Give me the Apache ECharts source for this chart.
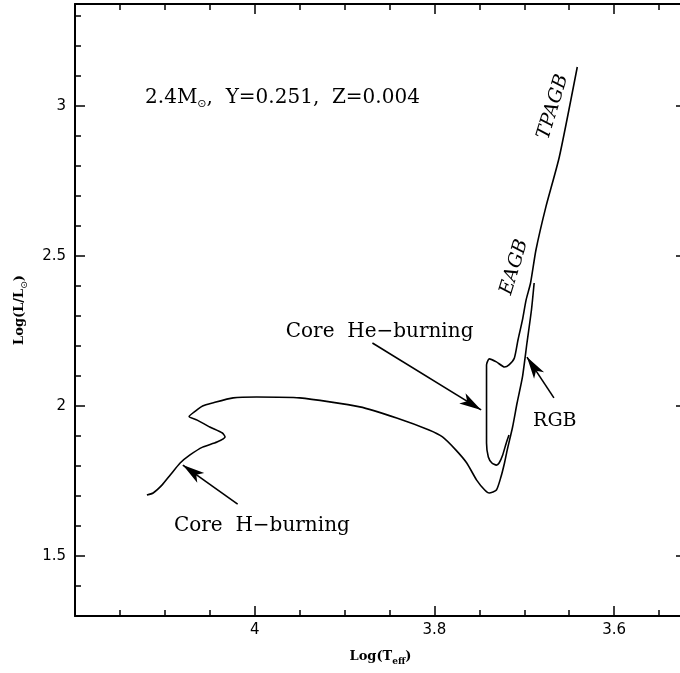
<!DOCTYPE html>
<html>
<head>
<meta charset="utf-8">
<script src="https://cdn.jsdelivr.net/npm/echarts@6/dist/echarts.min.js"></script>
<style>
html, body { margin: 0; padding: 0; background: #fff; overflow: hidden; }
#main { width: 690px; height: 673px; }
</style>
</head>
<body>
<div id="main"></div>
<script>
// track: main sequence -> hook -> Hertzsprung gap -> RGB tip  [logTeff, logL]
var msToRgb = [
  [4.120, 1.703], [4.113, 1.710], [4.103, 1.737], [4.094, 1.770], [4.083, 1.810],
  [4.072, 1.837], [4.058, 1.863], [4.042, 1.880], [4.033, 1.897], [4.036, 1.910],
  [4.050, 1.930], [4.064, 1.953], [4.073, 1.965], [4.066, 1.983], [4.058, 2.000],
  [4.047, 2.010], [4.024, 2.027], [3.998, 2.030], [3.950, 2.027], [3.883, 1.997],
  [3.842, 1.960], [3.806, 1.920], [3.791, 1.897], [3.776, 1.853], [3.764, 1.810],
  [3.753, 1.753], [3.744, 1.720], [3.739, 1.710], [3.731, 1.720], [3.726, 1.763],
  [3.722, 1.810], [3.719, 1.853], [3.713, 1.930], [3.708, 2.010], [3.702, 2.097],
  [3.697, 2.210], [3.692, 2.320], [3.689, 2.410]
];
// core He burning loop -> early AGB -> thermally pulsing AGB
var heToAgb = [
  [3.717, 1.903], [3.720, 1.877], [3.724, 1.837], [3.728, 1.810], [3.731, 1.803],
  [3.736, 1.810], [3.740, 1.830], [3.742, 1.877], [3.742, 1.963], [3.742, 2.077],
  [3.742, 2.137], [3.739, 2.157], [3.731, 2.147], [3.722, 2.130], [3.717, 2.137],
  [3.711, 2.160], [3.707, 2.220], [3.702, 2.287], [3.698, 2.353], [3.693, 2.410],
  [3.687, 2.520], [3.676, 2.663], [3.661, 2.830], [3.641, 3.130]
];

var xMajor = [3.6, 3.8, 4.0];
var xMinor = [3.55, 3.65, 3.7, 3.75, 3.85, 3.9, 3.95, 4.05, 4.1, 4.15];
var yMajor = [1.5, 2, 2.5, 3];
var yMinor = [1.4, 1.6, 1.7, 1.8, 1.9, 2.1, 2.2, 2.3, 2.4, 2.6, 2.7, 2.8, 2.9, 3.1, 3.2, 3.3];

// arrows: [from, to]
var arrowH = [[4.019, 1.673], [4.080, 1.803]];
var arrowHe = [[3.869, 2.210], [3.748, 1.987]];
var arrowRgb = [[3.667, 2.027], [3.697, 2.163]];

var labelModel = [4.122, 3.025];
var labelH = [3.992, 1.600];
var labelHe = [3.861, 2.247];
var labelRgb = [3.666, 1.950];
var labelEagb = [3.711, 2.463];
var labelTpagb = [3.668, 2.997];

var chart = echarts.init(document.getElementById('main'));

var ink = '#000';
var tickFont = { fontFamily: 'DejaVu Sans', fontSize: 15, color: ink };
var serif = 'DejaVu Serif';

function xAx(pos, ticks, len, major) {
  return {
    type: 'value', position: pos, inverse: true, min: 3.52, max: 4.2,
    axisLine: { show: major, onZero: false, lineStyle: { color: ink, width: 2 } },
    axisTick: { show: true, inside: true, length: len, customValues: ticks, lineStyle: { color: ink, width: 1.5 } },
    axisLabel: major && pos == 'bottom'
      ? Object.assign({ show: true, customValues: xMajor, margin: 7 }, tickFont)
      : { show: false },
    splitLine: { show: false }
  };
}
function yAx(pos, ticks, len, major) {
  return {
    type: 'value', position: pos, min: 1.3, max: 3.34,
    axisLine: { show: major, onZero: false, lineStyle: { color: ink, width: 2 } },
    axisTick: { show: true, inside: true, length: len, customValues: ticks, lineStyle: { color: ink, width: 1.5 } },
    axisLabel: major && pos == 'left'
      ? Object.assign({ show: true, customValues: yMajor, margin: 9 }, tickFont)
      : { show: false },
    splitLine: { show: false }
  };
}

var xAxes = [xAx('bottom', xMajor, 10, true), xAx('bottom', xMinor, 6, false),
             xAx('top', xMajor, 10, true), xAx('top', xMinor, 6, false)];
xAxes[0].name = '{a|Log(T}{s|eff}{a|)}';
xAxes[0].nameLocation = 'middle';
xAxes[0].nameGap = 34;
xAxes[0].nameTextStyle = {
  rich: {
    a: { fontFamily: serif, fontWeight: 'bold', fontSize: 13, color: ink, lineHeight: 16, verticalAlign: 'top' },
    s: { fontFamily: serif, fontWeight: 'bold', fontSize: 9, color: ink, lineHeight: 10, padding: [10, 0, 0, 0], verticalAlign: 'bottom' }
  }
};

var yAxes = [yAx('left', yMajor, 10, true), yAx('left', yMinor, 6, false),
             yAx('right', yMajor, 10, true), yAx('right', yMinor, 6, false)];
yAxes[0].name = '{a|Log(L/L}{s|⊙}{a|)}';
yAxes[0].nameLocation = 'middle';
yAxes[0].nameGap = 46;
yAxes[0].nameTextStyle = {
  rich: {
    a: { fontFamily: serif, fontWeight: 'bold', fontSize: 13, color: ink, lineHeight: 16, verticalAlign: 'top' },
    s: { fontFamily: 'DejaVu Sans', fontSize: 9, color: ink, lineHeight: 10, padding: [9, 0, 0, 0], verticalAlign: 'bottom' }
  }
};

function txt(at, text, opts) {
  var size = (opts && opts.fontSize) || 20;
  return {
    value: at,
    label: Object.assign({
      show: true, formatter: text, position: [0, 0], align: 'center', verticalAlign: 'middle',
      fontFamily: serif, fontSize: size, color: ink,
      rich: {
        a: { fontFamily: serif, fontSize: size, color: ink, lineHeight: 22, verticalAlign: 'top' },
        s: { fontFamily: 'DejaVu Sans', fontSize: 11, color: ink, lineHeight: 12, padding: [12, 0, 0, 0], verticalAlign: 'bottom' }
      }
    }, opts || {})
  };
}

var option = {
  animation: false,
  backgroundColor: '#fff',
  grid: { left: 75, top: 4, width: 611, height: 612, containLabel: false },
  xAxis: xAxes,
  yAxis: yAxes,
  series: [
    {
      type: 'line', data: msToRgb, showSymbol: false, symbol: 'none', smooth: 0.2,
      lineStyle: { color: ink, width: 1.6 }
    },
    {
      type: 'line', data: heToAgb, showSymbol: false, symbol: 'none', smooth: 0.2,
      lineStyle: { color: ink, width: 1.6 }
    },
    {
      type: 'lines', coordinateSystem: 'cartesian2d',
      symbol: ['none', 'arrow'], symbolSize: [1, [9, 22]],
      lineStyle: { color: ink, width: 1.6, opacity: 1 },
      data: [{ coords: arrowH }, { coords: arrowHe }, { coords: arrowRgb }]
    },
    {
      type: 'scatter', symbolSize: 0, itemStyle: { color: 'rgba(0,0,0,0)', opacity: 1 },
      data: [
        txt(labelModel, '{a|2.4M}{s|⊙}{a|,  Y=0.251,  Z=0.004}', { align: 'left', fontSize: 20 }),
        txt(labelH, 'Core  H\u2212burning'),
        txt(labelHe, 'Core  He\u2212burning'),
        txt(labelRgb, 'RGB', { fontSize: 19 }),
        txt(labelEagb, 'EAGB', { rotate: 73, fontStyle: 'italic', fontSize: 19 }),
        txt(labelTpagb, 'TPAGB', { rotate: 73, fontStyle: 'italic', fontSize: 19 })
      ]
    }
  ]
};

chart.setOption(option);
window.addEventListener('resize', function () { chart.resize(); });
</script>
</body>
</html>
